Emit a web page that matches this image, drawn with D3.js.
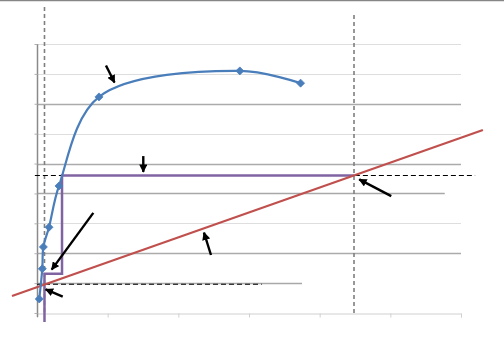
<!DOCTYPE html>
<html><head><meta charset="utf-8">
<script src="https://cdn.jsdelivr.net/npm/d3@7"></script>
<style>html,body{margin:0;padding:0;background:#fff;overflow:hidden}</style>
</head><body>
<svg id="c" width="504" height="343"></svg>
<script>
// ---- data ----
const xTicks = [0, 10, 20, 30, 40, 50, 60];
const yTicks = [0, 1, 2, 3, 4, 5, 6, 7, 8, 9];
const gridLevels = [9, 8, 7, 6, 5, 3, 2];
const gridDark = [7, 5, 2];
const shortLines = [[4, 57.7], [1, 37.5]];      // [y, x end]
const curveX = [0.32, 0.75, 0.9, 1.7, 3.11, 8.77, 28.7, 37.3];
const curveY = [0.47, 1.48, 2.21, 2.87, 4.25, 7.23, 8.10, 7.69];
const redX = [-3.54, 63.1];
const redY = [0.57, 6.12];
const stepX = [1.06, 1.06, 3.54, 3.54, 44.86];
const stepY = [-0.3, 1.31, 1.31, 4.6, 4.6];
const vDashX = [1.06, 44.86];
const vDashTop = [10.24, 9.97];
const hDashY = [4.6, 0.96];
const hDashX0 = [-0.3, 0];
const hDashX1 = [62.0, 31.8];
const arrowX1 = [9.76, 15.04, 7.97, 3.64, 24.62, 50.13];
const arrowY1 = [8.28, 5.25, 3.35, 0.545, 1.94, 3.91];
const arrowX2 = [10.97, 15.04, 2.08, 1.23, 23.63, 45.6];
const arrowY2 = [7.71, 4.72, 1.45, 0.79, 2.69, 4.47];

// ---- drawing ----
const svg = d3.select("#c");
const x = d3.scaleLinear().domain([0, 60]).range([37, 461]);
const y = d3.scaleLinear().domain([0, 9]).range([313, 44]);

svg.append("line").attr("x1", 0).attr("x2", 504).attr("y1", 0.5).attr("y2", 0.5)
  .attr("stroke", "#868686").attr("stroke-width", 1.5);

// gridlines
svg.selectAll(".g").data(gridLevels).enter().append("line")
  .attr("x1", x(0)).attr("x2", x(60))
  .attr("y1", d => Math.round(y(d)) + 0.5).attr("y2", d => Math.round(y(d)) + 0.5)
  .attr("stroke", d => gridDark.includes(d) ? "#ababab" : "#dedede")
  .attr("stroke-width", d => gridDark.includes(d) ? 1.5 : 1);
svg.selectAll(".s").data(shortLines).enter().append("line")
  .attr("x1", x(0)).attr("x2", d => x(d[1]))
  .attr("y1", d => Math.round(y(d[0])) + 0.5).attr("y2", d => Math.round(y(d[0])) + 0.5)
  .attr("stroke", "#a8a8a8").attr("stroke-width", 1.5);

// x axis
const xa = svg.append("g").attr("transform", `translate(0,${Math.round(y(0)) + 0.5})`)
  .call(d3.axisBottom(x).tickValues(xTicks).tickSize(4).tickFormat(""));
xa.selectAll("path,line").attr("stroke", "#d0d0d0");
// y axis
const ya = svg.append("g").attr("transform", `translate(${Math.round(x(0)) + 0.5},0)`)
  .call(d3.axisLeft(y).tickValues(yTicks).tickSize(3).tickSizeOuter(0).tickFormat(""));
ya.select("path").attr("stroke", "#8a8a8a").attr("stroke-width", 1.5);
ya.selectAll("line").attr("stroke", "#b0b0b0");
ya.select("path").attr("d", `M0,${y(9)}V${y(0) + 4}`);

// vertical dashed lines
svg.selectAll(".vd").data(vDashX).enter().append("line")
  .attr("x1", d => x(d)).attr("x2", d => x(d))
  .attr("y1", (d, i) => y(vDashTop[i])).attr("y2", y(0))
  .attr("stroke", "#7f7f7f").attr("stroke-width", 1.6).attr("stroke-dasharray", "4,3");

// horizontal black dashed lines
svg.selectAll(".hd").data(hDashY).enter().append("line")
  .attr("x1", (d, i) => x(hDashX0[i])).attr("x2", (d, i) => x(hDashX1[i]))
  .attr("y1", d => y(d)).attr("y2", d => y(d))
  .attr("stroke", "#000").attr("stroke-width", 1.1).attr("stroke-dasharray", "5,3");

// purple step line
const line = d3.line().x(d => x(d[0])).y(d => y(d[1]));
svg.append("path").attr("d", line(stepX.map((v, i) => [v, stepY[i]])))
  .attr("fill", "none").attr("stroke", "#8064A2").attr("stroke-width", 2.5);

// red line
svg.append("path").attr("d", line(redX.map((v, i) => [v, redY[i]])))
  .attr("fill", "none").attr("stroke", "#C0504D").attr("stroke-width", 2.2);

// blue smooth curve
const pts = curveX.map((v, i) => [v, curveY[i]]);
svg.append("path").attr("d", d3.line().x(d => x(d[0])).y(d => y(d[1])).curve(d3.curveCatmullRom.alpha(0.5))(pts))
  .attr("fill", "none").attr("stroke", "#4A7EBB").attr("stroke-width", 2.2);
svg.selectAll(".m").data(pts).enter().append("path")
  .attr("d", "M0,-4L4,0L0,4L-4,0Z")
  .attr("transform", d => `translate(${x(d[0])},${y(d[1])})`)
  .attr("fill", "#4A7EBB").attr("stroke", "#4A7EBB").attr("stroke-width", 0.8);

// arrows
const defs = svg.append("defs");
defs.append("marker").attr("id", "ah").attr("viewBox", "0 0 10 10").attr("refX", 9).attr("refY", 5)
  .attr("markerWidth", 3.6).attr("markerHeight", 3.4).attr("markerUnits", "strokeWidth").attr("orient", "auto")
  .append("path").attr("d", "M0,0L10,5L0,10z").attr("fill", "#000");
svg.selectAll(".a").data(arrowX1).enter().append("line")
  .attr("x1", d => x(d)).attr("y1", (d, i) => y(arrowY1[i]))
  .attr("x2", (d, i) => x(arrowX2[i])).attr("y2", (d, i) => y(arrowY2[i]))
  .attr("stroke", "#000").attr("stroke-width", 2.4).attr("marker-end", "url(#ah)");
</script>
</body></html>
